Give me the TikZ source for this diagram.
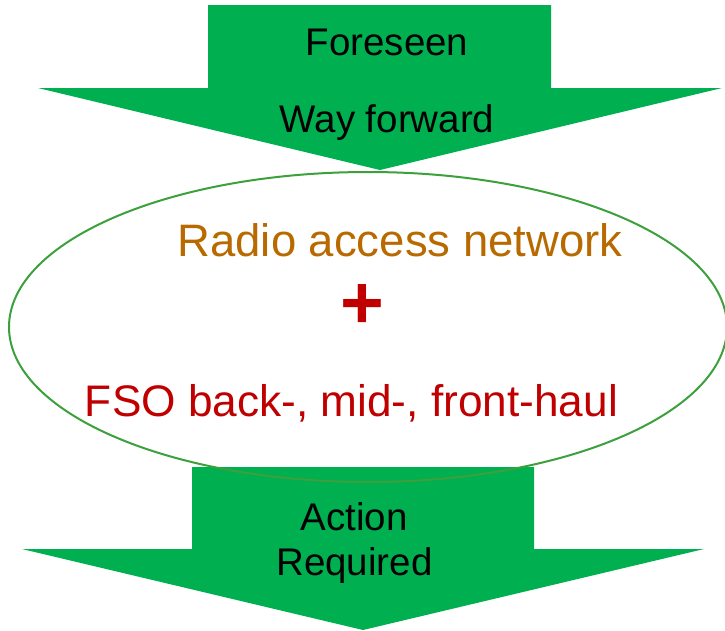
\documentclass[tikz,border=0pt]{standalone}
\usepackage{fontspec}
\setmainfont{Liberation Sans}
\definecolor{arrowgreen}{RGB}{0,176,80}
\definecolor{ringgreen}{RGB}{60,160,60}
\definecolor{ranorange}{RGB}{184,106,0}
\definecolor{fsored}{RGB}{192,0,0}
\begin{document}
\begin{tikzpicture}[x=1pt,y=-1pt,
  label/.style={font=\fontsize{38.5}{40}\selectfont, text=black, anchor=base, inner sep=0pt},
  bigtext/.style={font=\fontsize{45}{48}\selectfont, anchor=base, inner sep=0pt},
  blockarrow/.style={fill=arrowgreen, draw=none}]
\useasboundingbox (0,0) rectangle (725,630);

% upper block arrow
\fill[blockarrow] (208,5) -- (551,5) -- (551,88) -- (722,88) -- (380,170)
  -- (38,88) -- (208,88) -- cycle;
% lower block arrow
\fill[blockarrow] (192,467) -- (534,467) -- (534,549) -- (704,549) -- (363,630)
  -- (22,549) -- (192,549) -- cycle;

% central ellipse
\draw[ringgreen, line width=2pt] (368,327) ellipse [x radius=359, y radius=155];

% texts
\node[label] (foreseen) at (387,55) {Foreseen};
\node[label] (way) at (387,132) {Way forward};
\node[bigtext, text=ranorange, font=\fontsize{45.5}{48}\selectfont] (ran) at (400,256) {Radio access network};
\node[text=fsored, font=\fontsize{75}{78}\selectfont\bfseries, anchor=base, inner sep=0pt] (plus) at (362,328) {+};
\node[bigtext, text=fsored, font=\fontsize{44.2}{48}\selectfont] (fso) at (351.5,416) {FSO back-, mid-, front-haul};
\node[label] (action) at (354,530) {Action};
\node[label] (required) at (354.5,575) {Required};
\end{tikzpicture}
\end{document}
